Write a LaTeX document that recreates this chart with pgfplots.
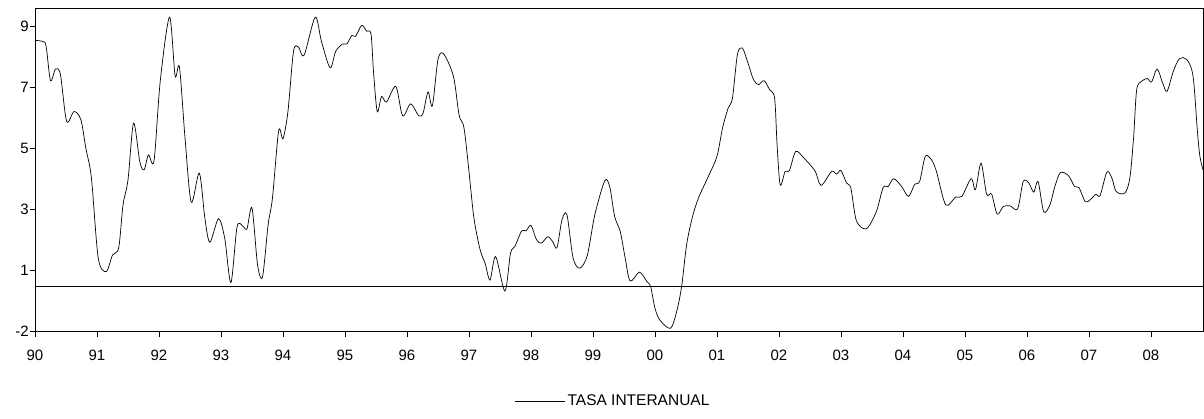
\documentclass[border=0pt]{standalone}
\usepackage{pgfplots}
\pgfplotsset{compat=1.18}
\usepackage{fontspec}
\setmainfont{Liberation Sans}
\begin{document}
\begin{tikzpicture}
\path[use as bounding box] (-35pt,-87.3pt) rectangle (1169pt,331.7pt);
\begin{axis}[
  at={(0pt,0pt)}, anchor=south west,
  scale only axis, width=1168pt, height=323.4pt,
  xmin=90, xmax=108.84, ymin=-1, ymax=9.59,
  axis line style={black, line width=0.6pt},
  xtick={90,91,92,93,94,95,96,97,98,99,100,101,102,103,104,105,106,107,108},
  xticklabels={90,91,92,93,94,95,96,97,98,99,00,01,02,03,04,05,06,07,08},
  ytick={-1,1,3,5,7,9},
  yticklabels={-2,1,3,5,7,9},
  tick align=outside, major tick length=5pt,
  xtick pos=left, ytick pos=left,
  tick style={black, line width=0.6pt},
  every tick label/.append style={font=\fontsize{15}{18}\selectfont},
  xticklabel style={yshift=-10pt},
  yticklabel style={inner sep=0pt, xshift=-1pt},
  legend style={draw=none, fill=none, at={(0.495,-0.214)}, anchor=center,
    font=\fontsize{15.5}{18}\selectfont},
  legend image code/.code={\draw[#1] (0pt,0pt) -- (50pt,0pt);},
]
\addplot[black, line width=0.6pt, forget plot] coordinates {(90,0.5) (108.84,0.5)};
\addplot[black, line width=0.7pt, smooth, tension=0.5] coordinates {
(90.00,8.54) (90.13,8.50) (90.18,8.34) (90.25,7.22) (90.33,7.60) (90.41,7.42)
(90.51,5.89) (90.63,6.21) (90.74,5.94) (90.82,5.01) (90.91,4.03) (91.02,1.41)
(91.15,0.97) (91.25,1.51) (91.35,1.75) (91.42,3.15) (91.50,3.97) (91.59,5.83)
(91.69,4.57) (91.76,4.30) (91.83,4.79) (91.92,4.60) (92.02,7.20) (92.17,9.30)
(92.26,7.38) (92.33,7.66) (92.42,5.34) (92.52,3.24) (92.65,4.19) (92.74,2.72)
(92.82,1.93) (92.96,2.70) (93.06,2.06) (93.16,0.61) (93.26,2.44) (93.36,2.44)
(93.42,2.37) (93.50,3.05) (93.59,1.19) (93.67,0.80) (93.76,2.50) (93.83,3.37)
(93.93,5.58) (94.00,5.32) (94.08,6.21) (94.17,8.18) (94.25,8.32) (94.34,8.05)
(94.52,9.30) (94.62,8.51) (94.76,7.64) (94.85,8.18) (94.96,8.42) (95.03,8.42)
(95.11,8.70) (95.17,8.67) (95.27,9.03) (95.35,8.84) (95.42,8.75) (95.46,7.52)
(95.52,6.21) (95.59,6.70) (95.67,6.52) (95.82,7.03) (95.93,6.07) (96.06,6.46)
(96.19,6.07) (96.26,6.16) (96.34,6.85) (96.41,6.40) (96.50,7.91) (96.59,8.10)
(96.75,7.36) (96.84,6.10) (96.92,5.67) (97.00,4.25) (97.08,2.72) (97.18,1.68)
(97.26,1.24) (97.34,0.69) (97.43,1.46) (97.58,0.33) (97.67,1.57) (97.74,1.79)
(97.85,2.30) (97.92,2.30) (98.00,2.48) (98.09,2.01) (98.17,1.90) (98.27,2.11)
(98.35,1.95) (98.42,1.75) (98.50,2.66) (98.58,2.83) (98.68,1.41) (98.79,1.08)
(98.91,1.51) (99.03,2.83) (99.19,3.94) (99.27,3.75) (99.35,2.77) (99.44,2.28)
(99.52,1.41) (99.60,0.66) (99.75,0.95) (99.87,0.64) (99.93,0.48) (100.00,-0.23)
(100.08,-0.62) (100.25,-0.89) (100.35,-0.34) (100.43,0.48) (100.51,1.84) (100.60,2.72)
(100.70,3.37) (100.86,4.08) (101.00,4.74) (101.09,5.67) (101.18,6.32) (101.25,6.65)
(101.33,8.07) (101.41,8.29) (101.51,7.74) (101.59,7.25) (101.67,7.09) (101.76,7.22)
(101.85,6.92) (101.93,6.65) (101.97,5.12) (102.02,3.81) (102.10,4.25) (102.17,4.28)
(102.27,4.90) (102.40,4.69) (102.58,4.27) (102.68,3.79) (102.85,4.25) (102.93,4.16)
(103.00,4.28) (103.09,3.87) (103.16,3.70) (103.25,2.63) (103.41,2.37) (103.57,2.93)
(103.68,3.72) (103.76,3.75) (103.85,4.01) (103.98,3.75) (104.09,3.43) (104.19,3.83)
(104.27,3.92) (104.36,4.74) (104.46,4.63) (104.54,4.25) (104.69,3.15) (104.85,3.41)
(104.95,3.43) (105.10,4.01) (105.17,3.65) (105.26,4.52) (105.35,3.50) (105.43,3.51)
(105.52,2.85) (105.62,3.10) (105.73,3.12) (105.85,3.02) (105.94,3.92) (106.03,3.87)
(106.11,3.57) (106.18,3.92) (106.27,2.93) (106.37,3.15) (106.45,3.75) (106.54,4.21)
(106.67,4.11) (106.77,3.75) (106.84,3.72) (106.94,3.26) (107.02,3.32) (107.11,3.50)
(107.18,3.46) (107.29,4.23) (107.37,4.03) (107.44,3.59) (107.58,3.54) (107.66,4.03)
(107.72,5.34) (107.77,6.92) (107.85,7.20) (107.94,7.29) (108.01,7.18) (108.10,7.60)
(108.19,7.14) (108.26,6.87) (108.36,7.52) (108.46,7.94) (108.58,7.91) (108.68,7.36)
(108.75,5.56) (108.79,4.74) (108.84,4.30)
};
\addlegendentry{TASA INTERANUAL}
\end{axis}
\end{tikzpicture}
\end{document}
